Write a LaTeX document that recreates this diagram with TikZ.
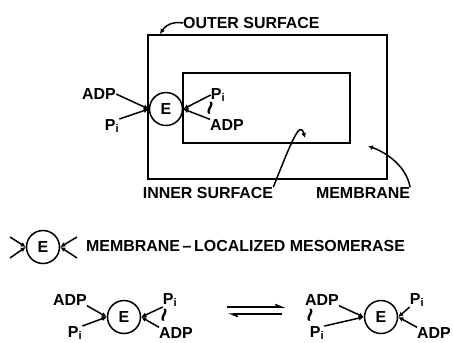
\documentclass[tikz,border=0pt]{standalone}
\usepackage{fontspec}
\setmainfont{Liberation Sans}
\usetikzlibrary{arrows.meta,positioning}
\tikzset{
 lbl/.style={font=\fontsize{16}{18}\selectfont\bfseries,inner sep=0pt},
 wavy/.style={font=\fontsize{24}{26}\selectfont\bfseries,inner sep=0pt,rotate=80},
 enz/.style={circle,draw,line width=1.5bp,minimum size=33bp,inner sep=0pt,font=\fontsize{16}{18}\selectfont\bfseries},
 wall/.style={draw,line width=1.7bp},
 arr/.style={-{Latex[length=5bp,width=5bp]},line width=1.5bp},
 harp/.style={-{Straight Barb[left,length=6bp,width=5bp]},line width=1.5bp}
}
\begin{document}
\begin{tikzpicture}[x=1bp,y=-1bp]
\useasboundingbox (0,0) rectangle (453,342);
% vesicle
\draw[wall] (148,35) rectangle (387,179);
\draw[wall] (183,73) rectangle (350,143);
\node[lbl,anchor=west] (outerlbl) at (183,23) {OUTER SURFACE};
\node[lbl] (innerlbl) at (208,193) {INNER SURFACE};
\node[lbl] (memlbl) at (363,193) {MEMBRANE};
\coordinate (outtip) at (160,34);
\coordinate (intip) at (305,138);
\coordinate (memtip) at (368,146);
\draw[arr] (outerlbl.west) .. controls (172,21) and (165,26) .. (outtip);
\draw[arr] (innerlbl.north east) .. controls (292,140) and (300,120) .. (intip);
\draw[arr] (memlbl.north east) .. controls (406,165) and (385,152) .. (memtip);
% enzyme in the membrane
\node[enz] (e1) at (166,109) {E};
\node[lbl] (adp1) at (99,94) {ADP};
\node[lbl] (pi1) at (112,126) {P\textsubscript{i}};
\node[lbl] (pi2) at (218,95) {P\textsubscript{i}};
\node[wavy] (w1) at (213,109) {\textasciitilde};
\node[lbl] (adp2) at (227,125) {ADP};
\draw[arr] (adp1.east) -- (e1.west);
\draw[arr] (pi1.north east) -- (e1.west);
\draw[arr] (pi2.west) -- (e1.east);
\draw[arr] (adp2.north west) -- (e1.east);
% legend
\node[enz] (e0) at (43,247) {E};
\coordinate (l1) at (10,237);
\coordinate (l2) at (10,258);
\coordinate (r1) at (77,237);
\coordinate (r2) at (77,258);
\draw[arr] (l1) -- (e0.west);
\draw[arr] (l2) -- (e0.west);
\draw[arr] (r1) -- (e0.east);
\draw[arr] (r2) -- (e0.east);
\node[lbl,anchor=west] (legend) at (86,246) {MEMBRANE\,–\,LOCALIZED MESOMERASE};
% equilibrium
\node[enz] (e2) at (124,317) {E};
\node[lbl] (adp3) at (70,300) {ADP};
\node[lbl] (pi3) at (75,333) {P\textsubscript{i}};
\node[lbl] (pi4) at (170,300) {P\textsubscript{i}};
\node[wavy] (w2) at (167,316) {\textasciitilde};
\node[lbl] (adp4) at (176,333) {ADP};
\draw[arr] (adp3.south east) -- (e2.west);
\draw[arr] (pi3.north east) -- (e2.west);
\draw[arr] (pi4.south west) -- (e2.east);
\draw[arr] (adp4.north west) -- (e2.east);
\coordinate (fa) at (227,307);
\coordinate (fb) at (285,307);
\coordinate (ba) at (282,314);
\coordinate (bb) at (228,314);
\draw[harp] (fa) -- (fb);
\draw[harp] (ba) -- (bb);
\node[enz] (e3) at (381,317) {E};
\node[lbl] (adp5) at (322,300) {ADP};
\node[wavy] (w3) at (313,316) {\textasciitilde};
\node[lbl] (pi5) at (317,333) {P\textsubscript{i}};
\node[lbl] (pi6) at (417,300) {P\textsubscript{i}};
\node[lbl] (adp6) at (434,333) {ADP};
\draw[arr] (adp5.south east) -- (e3.west);
\draw[arr] (pi5.north east) -- (e3.west);
\draw[arr] (pi6.south west) -- (e3.east);
\draw[arr] (adp6.north west) -- (e3.east);
\end{tikzpicture}
\end{document}
